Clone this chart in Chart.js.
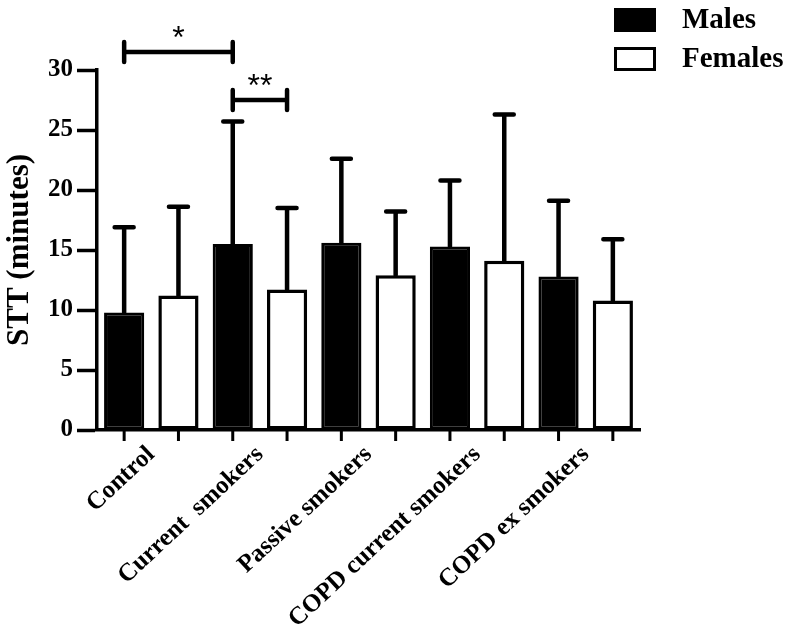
<!DOCTYPE html>
<html>
<head>
<meta charset="utf-8">
<style>
  html, body { margin: 0; padding: 0; background: #fff; }
  #wrap { width: 800px; height: 627px; }
</style>
<script src="https://cdn.jsdelivr.net/npm/chart.js@4.4.1/dist/chart.umd.min.js"></script>
</head>
<body>
<div id="wrap"><canvas id="sttChart" width="800" height="627"></canvas></div>
<script>
// Groups and values (mean + upper SD)
const groups = ['Control', 'Current  smokers', 'Passive smokers', 'COPD current smokers', 'COPD ex smokers'];
const malesMean = [9.8, 15.5, 15.6, 15.3, 12.8];
const malesSD = [7.1, 10.2, 7.0, 5.5, 6.3];
const femalesMean = [11.2, 11.7, 12.9, 14.1, 10.8];
const femalesSD = [7.4, 6.8, 5.3, 12.2, 5.1];
const yTicks = [0, 5, 10, 15, 20, 25, 30];

// Significance brackets: from [dataset, index] to [dataset, index], drawn at a y value
const sigBrackets = [
    { from: [0, 0], to: [0, 1], level: 31.5, text: '*' },
    { from: [0, 1], to: [1, 1], level: 27.5, text: '**' }
];

const serif = '"Liberation Serif", "Times New Roman", serif';

// Upward-only error bars with caps
const errorBars = {
    id: 'errorBars',
    afterDatasetsDraw(chart) {
        const ctx = chart.ctx;
        const y = chart.scales.y;
        ctx.save();
        ctx.strokeStyle = '#000';
        ctx.lineWidth = 4.5;
        ctx.lineCap = 'round';
        chart.data.datasets.forEach((ds, i) => {
            chart.getDatasetMeta(i).data.forEach((bar, j) => {
                const top = y.getPixelForValue(ds.data[j] + ds.sd[j]);
                ctx.beginPath();
                ctx.moveTo(bar.x, bar.y);
                ctx.lineTo(bar.x, top);
                ctx.moveTo(bar.x - 9.5, top);
                ctx.lineTo(bar.x + 9.5, top);
                ctx.stroke();
            });
        });
        ctx.restore();
    }
};

// Tick marks under every bar, brackets and the legend box
const extras = {
    id: 'extras',
    afterDraw(chart) {
        const ctx = chart.ctx;
        const area = chart.chartArea;
        const y = chart.scales.y;
        ctx.save();
        ctx.strokeStyle = '#000';
        ctx.fillStyle = '#000';

        // x tick marks at bar centres
        ctx.lineWidth = 3;
        chart.data.datasets.forEach((ds, i) => {
            chart.getDatasetMeta(i).data.forEach(bar => {
                ctx.beginPath();
                ctx.moveTo(bar.x, area.bottom);
                ctx.lineTo(bar.x, area.bottom + 11);
                ctx.stroke();
            });
        });

        // significance brackets
        ctx.lineWidth = 4.5;
        ctx.lineCap = 'round';
        sigBrackets.forEach(b => {
            const x1 = chart.getDatasetMeta(b.from[0]).data[b.from[1]].x;
            const x2 = chart.getDatasetMeta(b.to[0]).data[b.to[1]].x;
            const yy = y.getPixelForValue(b.level);
            ctx.beginPath();
            ctx.moveTo(x1, yy);
            ctx.lineTo(x2, yy);
            ctx.moveTo(x1, yy - 10);
            ctx.lineTo(x1, yy + 10);
            ctx.moveTo(x2, yy - 10);
            ctx.lineTo(x2, yy + 10);
            ctx.stroke();
            ctx.font = '32px "Liberation Sans", Arial, sans-serif';
            ctx.textAlign = 'center';
            ctx.textBaseline = 'alphabetic';
            ctx.fillText(b.text, (x1 + x2) / 2, yy - 4);
        });

        // legend
        ctx.lineCap = 'butt';
        ctx.font = 'bold 29px ' + serif;
        ctx.textAlign = 'left';
        ctx.textBaseline = 'middle';
        chart.data.datasets.forEach((ds, i) => {
            const top = 8 + i * 39;
            ctx.fillStyle = ds.backgroundColor;
            ctx.fillRect(614, top, 42, 24);
            ctx.lineWidth = 3;
            ctx.strokeStyle = ds.borderColor;
            ctx.strokeRect(615.5, top + 1.5, 39, 21);
            ctx.fillStyle = '#000';
            ctx.fillText(ds.label, 682, top + 13);
        });
        ctx.restore();
    }
};

new Chart(document.getElementById('sttChart'), {
    type: 'bar',
    data: {
        labels: groups,
        datasets: [
            {
                label: 'Males',
                data: malesMean,
                sd: malesSD,
                backgroundColor: '#000',
                borderColor: '#000',
                borderWidth: 3,
                borderSkipped: false
            },
            {
                label: 'Females',
                data: femalesMean,
                sd: femalesSD,
                backgroundColor: '#fff',
                borderColor: '#000',
                borderWidth: 3.5,
                borderSkipped: false
            }
        ]
    },
    options: {
        responsive: false,
        animation: false,
        devicePixelRatio: 1,
        layout: { padding: { top: 70, right: 160, left: 0, bottom: 0 } },
        datasets: {
            bar: { categoryPercentage: 1.0, barPercentage: 0.74 }
        },
        plugins: {
            legend: { display: false },
            tooltip: { enabled: false }
        },
        scales: {
            x: {
                offset: true,
                grid: { display: false, drawTicks: false },
                border: { display: true, color: '#000', width: 3.5 },
                ticks: {
                    color: '#000',
                    font: { family: serif, size: 25, weight: 'bold' },
                    minRotation: 43,
                    maxRotation: 43,
                    autoSkip: false,
                    padding: 10
                },
                afterFit: s => { s.height = 197; }
            },
            y: {
                min: 0,
                max: 30,
                afterBuildTicks: s => { s.ticks = yTicks.map(v => ({ value: v })); },
                grid: {
                    drawOnChartArea: false,
                    drawTicks: true,
                    tickLength: 20,
                    tickWidth: 3.5,
                    tickColor: '#000'
                },
                border: { display: true, color: '#000', width: 3.5 },
                ticks: {
                    color: '#000',
                    font: { family: serif, size: 25, weight: 'bold' },
                    padding: 4
                },
                title: {
                    display: true,
                    text: 'STT (minutes)',
                    color: '#000',
                    font: { family: serif, size: 31, weight: 'bold' },
                    padding: 1
                },
                afterFit: s => { s.width = 97; }
            }
        }
    },
    plugins: [errorBars, extras]
});
</script>
</body>
</html>
